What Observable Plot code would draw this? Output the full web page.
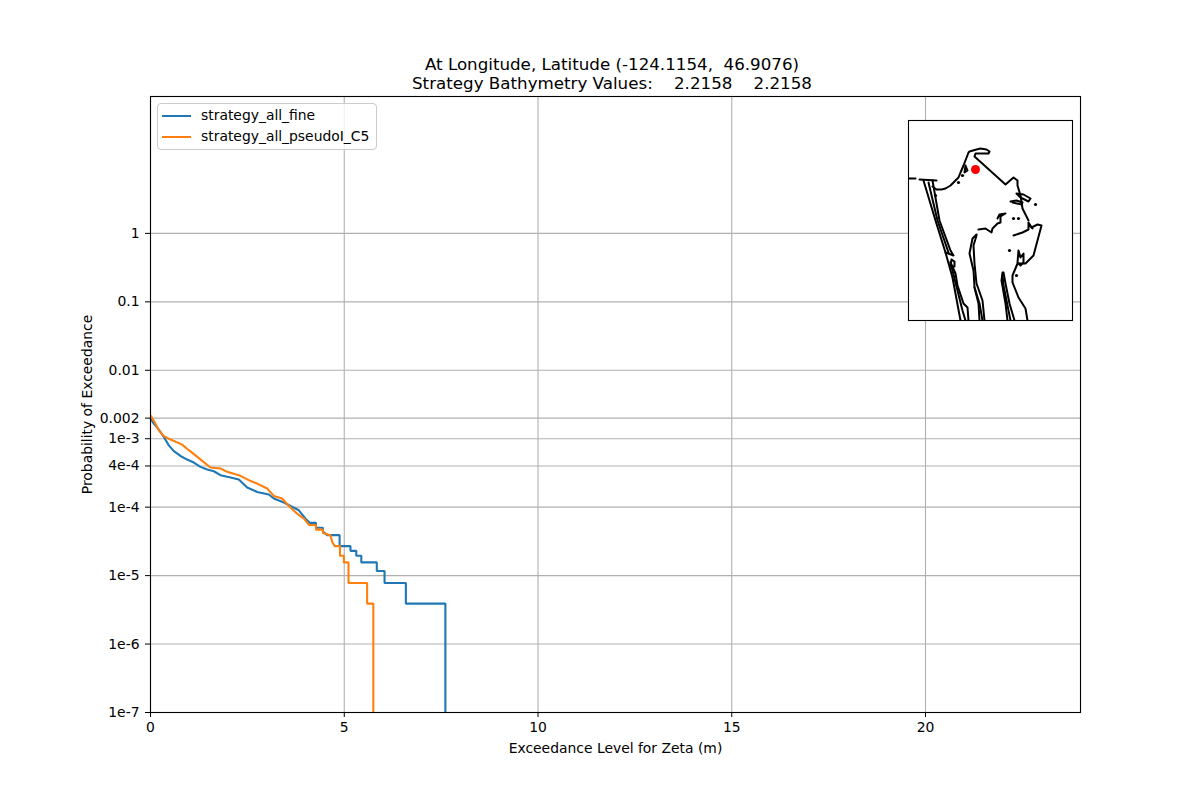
<!DOCTYPE html>
<html>
<head>
<meta charset="utf-8">
<script src="https://cdn.jsdelivr.net/npm/d3@7"></script>
<script src="https://cdn.jsdelivr.net/npm/@observablehq/plot@0.6"></script>
<style>
  html, body { margin: 0; padding: 0; background: #fff; }
  #wrap { position: relative; width: 1200px; height: 800px; font-family: "DejaVu Sans", sans-serif; color: #000; overflow: hidden; }
  #wrap > * { position: absolute; }
  #title { left: 312px; width: 600px; top: 55px; text-align: center; font-size: 16.7px; line-height: 19px; white-space: pre; }
  #legend { left: 157px; top: 103px; width: 218px; height: 45px; background: rgba(255,255,255,.8); border: 1px solid #ccc; border-radius: 4px; font-size: 13.9px; }
  #legend div { position: absolute; left: 43px; white-space: nowrap; line-height: 16px; }
  #legend i { position: absolute; left: 4px; width: 29px; height: 2px; }
</style>
</head>
<body>
<div id="wrap"></div>
<script>
const titleLines = ["At Longitude, Latitude (-124.1154,  46.9076)", "Strategy Bathymetry Values:    2.2158    2.2158"];
const xLabel = "Exceedance Level for Zeta (m)";
const yLabel = "Probability of Exceedance";
const xTicks = [0, 5, 10, 15, 20];
const yTicks = [1e-7, 1e-6, 1e-5, 1e-4, 4e-4, 1e-3, 0.002, 0.01, 0.1, 1];
const yTickLabels = ["1e-7", "1e-6", "1e-5", "1e-4", "4e-4", "1e-3", "0.002", "0.01", "0.1", "1"];
const seriesNames = ["strategy_all_fine", "strategy_all_pseudoI_C5"];
const seriesColors = ["#1f77b4", "#ff7f0e"];

const fineZeta = [0, .086, .215, .344, .473, .602, .774, .946, 1.118, 1.29, 1.462, 1.634, 1.806, 2.064, 2.28, 2.495, 2.753, 3.054, 3.183, 3.441, 3.613, 3.828, 4.0, 4.11, 4.27, 4.27, 4.45, 4.45, 4.56, 4.88, 4.88, 5.16, 5.16, 5.31, 5.31, 5.44, 5.44, 5.84, 5.84, 6.04, 6.04, 6.59, 6.59, 7.61, 7.61];
const fineProb = [1.97e-3, 1.66e-3, 1.36e-3, 1.06e-3, 8.0e-4, 6.6e-4, 5.6e-4, 4.96e-4, 4.49e-4, 3.88e-4, 3.55e-4, 3.35e-4, 2.93e-4, 2.71e-4, 2.53e-4, 1.94e-4, 1.67e-4, 1.53e-4, 1.34e-4, 1.17e-4, 1.04e-4, 9.0e-5, 6.8e-5, 5.9e-5, 5.9e-5, 5.0e-5, 5.0e-5, 4.4e-5, 3.9e-5, 3.9e-5, 2.7e-5, 2.7e-5, 2.3e-5, 2.3e-5, 1.95e-5, 1.95e-5, 1.56e-5, 1.56e-5, 1.17e-5, 1.17e-5, 7.8e-6, 7.8e-6, 3.9e-6, 3.9e-6, 1e-7];
const pseudoZeta = [0, .103, .215, .344, .473, .817, .989, 1.161, 1.333, 1.548, 1.806, 1.978, 2.322, 2.538, 2.753, 3.011, 3.183, 3.398, 3.570, 3.80, 3.96, 4.09, 4.27, 4.27, 4.45, 4.45, 4.64, 4.69, 4.75, 4.89, 4.89, 4.99, 4.99, 5.11, 5.11, 5.59, 5.59, 5.75, 5.75];
const pseudoProb = [2.2e-3, 1.76e-3, 1.33e-3, 1.09e-3, 1.0e-3, 8.2e-4, 6.8e-4, 5.7e-4, 4.75e-4, 3.8e-4, 3.67e-4, 3.28e-4, 2.87e-4, 2.48e-4, 2.21e-4, 1.87e-4, 1.46e-4, 1.34e-4, 1.04e-4, 7.9e-5, 6.8e-5, 5.5e-5, 5.5e-5, 4.7e-5, 4.7e-5, 4.2e-5, 3.9e-5, 3.1e-5, 2.7e-5, 2.7e-5, 1.95e-5, 1.95e-5, 1.56e-5, 1.56e-5, 7.8e-6, 7.8e-6, 3.9e-6, 3.9e-6, 1e-7];

// Inset coastline, in the inset's own map units (164 wide, 200 tall)
const coastStub = [[0,58],[7,58]];
const coastBar = [[11,59],[28,60]];
const coastTop = [[24,66],[28,69],[33,69],[37,68],[42,65],[46,61],[50,57],[52,52],[55,45],[57,40],[60,32],[61,31],[68,29],[72,28],[78,29],[81,31],[80,33],[67,33],[66,36],[97,64],[105,57],[109,60],[109,65],[112,75],[114,88],[120,100]];
const coastOuter = [[15,60],[27,100],[37,132],[44,157],[52,200]];
const coastMiddle = [[20,62],[29,100],[40,132]];
const coastInner = [[24,60],[31,100],[42,130],[45,135],[37,132]];
const islandLoop = [[43,139],[46,141],[46,146],[42,146],[43,139]];
const coastIslandChain = [[42,142],[47,153],[49,165],[55,183],[59,187],[60,200]];
const coastIslandChain2 = [[42,142],[44,150],[49,170],[54,190],[57,200]];
const bandWestA = [[68,114],[64,118],[61,133],[65,150],[66,167],[70,183],[71,200]];
const bandWestB = [[68,115],[65,125],[66,143],[68,163],[74,180],[76,200]];
const bandWestC = [[66,167],[71,183],[74,200]];
const bandMidA = [[94,152],[93,160],[97,183],[99,200]];
const bandMidB = [[94,155],[95,165],[102,200]];
const bandMidC = [[95,152],[97,163],[101,183],[106,200]];
const coastEast = [[120,102],[123,107],[129,104],[133,105],[129,120],[125,135],[117,143],[109,143],[104,155],[104,162],[110,177],[117,188],[119,200]];
const sound1 = [[70,109],[77,108],[83,112],[84,108],[89,103],[92,102],[92,96],[97,93],[91,94],[89,98]];
const sound2 = [[105,115],[114,112],[120,109],[120,103],[124,108]];
const sound3 = [[108,73],[115,74],[122,78],[120,81],[112,77],[108,73]];
const sound4 = [[102,81],[108,80],[114,82],[113,84],[104,82]];
const sound5 = [[110,130],[112,137],[115,133],[115,142],[112,145],[109,142],[110,130]];
const sound6 = [[57,45],[59,50],[56,52],[57,45]];
const coastLines = [coastStub, coastBar, coastTop, coastOuter, coastMiddle, coastInner, islandLoop, coastIslandChain, coastIslandChain2, bandWestA, bandWestB, bandWestC, bandMidA, bandMidB, bandMidC, coastEast, sound1, sound2, sound3, sound4, sound5, sound6];
const coastDots = [[50,62],[27,75],[127,84],[105,98],[110,98],[101,130],[108,155],[54,55]];
const stationPoint = [[67,49]];

const wrap = document.getElementById("wrap");
const rows = (zs, ps) => zs.map((z, i) => ({z, p: ps[i]}));

const main = Plot.plot({
  width: 1200, height: 800,
  marginLeft: 150, marginRight: 120, marginTop: 96, marginBottom: 88,
  style: {fontFamily: "DejaVu Sans", fontSize: "13.9px", background: "#fff", color: "#000"},
  x: {domain: [0, 24]},
  y: {type: "log", domain: [1e-7, 100]},
  marks: [
    Plot.gridX(xTicks, {stroke: "#b0b0b0", strokeOpacity: 1, strokeWidth: 1.1}),
    Plot.gridY(yTicks, {stroke: "#b0b0b0", strokeOpacity: 1, strokeWidth: 1.1}),
    Plot.line(rows(fineZeta, fineProb), {x: "z", y: "p", stroke: seriesColors[0], strokeWidth: 2.1, strokeLinejoin: "miter", strokeLinecap: "butt"}),
    Plot.line(rows(pseudoZeta, pseudoProb), {x: "z", y: "p", stroke: seriesColors[1], strokeWidth: 2.1, strokeLinejoin: "miter", strokeLinecap: "butt"}),
    Plot.axisX(xTicks, {tickSize: 5, tickPadding: 5, tickFormat: d => String(d), label: xLabel, labelAnchor: "center", labelArrow: "none", labelOffset: 40, fontSize: 13.9}),
    Plot.axisY(yTicks, {tickSize: 5, tickPadding: 6, text: d => yTickLabels[yTicks.indexOf(d)], label: yLabel, labelAnchor: "center", labelArrow: "none", labelOffset: 68, fontSize: 13.9}),
    Plot.frame({stroke: "#000", strokeWidth: 1.1})
  ]
});
wrap.appendChild(main);

const inset = Plot.plot({
  width: 165, height: 201,
  margin: 0, marginRight: 1, marginBottom: 1,
  style: {background: "#fff", overflow: "visible"},
  x: {domain: [0, 164], axis: null},
  y: {domain: [200, 0], axis: null},
  marks: [
    ...coastLines.map(seg => Plot.line(seg, {x: "0", y: "1", stroke: "#000", strokeWidth: 2, curve: "linear", clip: true})),
    Plot.dot(coastDots, {x: "0", y: "1", r: 1.6, fill: "#000"}),
    Plot.dot(stationPoint, {x: "0", y: "1", r: 4.5, fill: "#ff0000"}),
    Plot.frame({stroke: "#000", strokeWidth: 1.1})
  ]
});
inset.style.left = "908px";
inset.style.top = "120px";
inset.style.position = "absolute";
wrap.appendChild(inset);

const title = document.createElement("div");
title.id = "title";
title.textContent = titleLines.join("\n");
wrap.appendChild(title);

const legend = document.createElement("div");
legend.id = "legend";
seriesNames.forEach((name, i) => {
  const swatch = document.createElement("i");
  swatch.style.top = (11 + i * 21) + "px";
  swatch.style.background = seriesColors[i];
  legend.appendChild(swatch);
  const label = document.createElement("div");
  label.style.top = (3 + i * 21) + "px";
  label.textContent = name;
  legend.appendChild(label);
});
wrap.appendChild(legend);
</script>
</body>
</html>
